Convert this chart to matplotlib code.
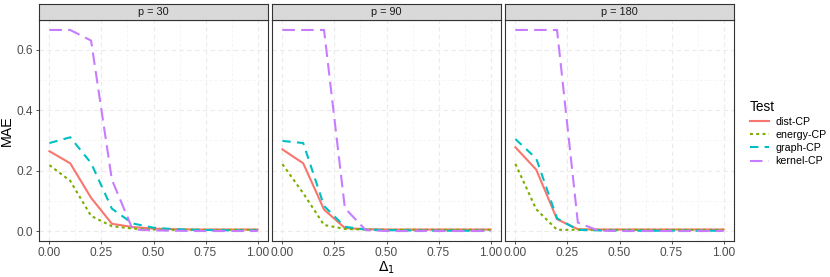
import matplotlib
matplotlib.use("Agg")
import matplotlib.pyplot as plt
from matplotlib.lines import Line2D

plt.rcParams['font.family'] = ['Liberation Sans', 'DejaVu Sans']

# data
delta = [0.0, 0.1, 0.2, 0.3, 0.4, 0.5, 0.6, 0.7, 0.8, 0.9, 1.0]
panels = ["p = 30", "p = 90", "p = 180"]
tests = ["dist-CP", "energy-CP", "graph-CP", "kernel-CP"]

dist_30 = [0.264, 0.224, 0.110, 0.024, 0.013, 0.008, 0.006, 0.005, 0.005, 0.005, 0.005]
energy_30 = [0.218, 0.166, 0.050, 0.016, 0.008, 0.005, 0.004, 0.004, 0.004, 0.004, 0.004]
graph_30 = [0.291, 0.310, 0.225, 0.074, 0.025, 0.011, 0.006, 0.004, 0.003, 0.002, 0.002]
kernel_30 = [0.665, 0.665, 0.630, 0.170, 0.005, 0.002, 0.001, 0.0, 0.0, 0.0, 0.0]

dist_90 = [0.270, 0.224, 0.071, 0.010, 0.006, 0.005, 0.005, 0.005, 0.005, 0.005, 0.005]
energy_90 = [0.221, 0.125, 0.020, 0.007, 0.005, 0.004, 0.004, 0.004, 0.004, 0.004, 0.004]
graph_90 = [0.298, 0.291, 0.083, 0.014, 0.005, 0.003, 0.002, 0.001, 0.001, 0.001, 0.001]
kernel_90 = [0.665, 0.665, 0.665, 0.076, 0.003, 0.0, 0.0, 0.0, 0.0, 0.0, 0.0]

dist_180 = [0.277, 0.203, 0.039, 0.006, 0.005, 0.005, 0.005, 0.005, 0.005, 0.005, 0.005]
energy_180 = [0.222, 0.072, 0.004, 0.004, 0.004, 0.004, 0.004, 0.004, 0.004, 0.004, 0.004]
graph_180 = [0.304, 0.240, 0.042, 0.004, 0.002, 0.001, 0.001, 0.001, 0.001, 0.001, 0.001]
kernel_180 = [0.665, 0.665, 0.665, 0.028, 0.001, 0.0, 0.0, 0.0, 0.0, 0.0, 0.0]

series = [
    [dist_30, energy_30, graph_30, kernel_30],
    [dist_90, energy_90, graph_90, kernel_90],
    [dist_180, energy_180, graph_180, kernel_180],
]

colors = ["#F8766D", "#7CAE00", "#00BFC4", "#C77CFF"]
dashes = [None, (1.4, 1.6), (4, 3), (6, 3)]
lw = 1.5

fig = plt.figure(figsize=(8.3, 2.77), dpi=100)
W, H = 830.0, 277.0
lefts = [39, 272, 505]
pw = 229
top, bottom = 20, 241
strip_h = 16
border = "#333333"

for i in range(3):
    ax = fig.add_axes([lefts[i] / W, 1 - bottom / H, pw / W, (bottom - top) / H])
    for j in range(4):
        kw = {}
        if dashes[j] is not None:
            kw["dashes"] = dashes[j]
        ax.plot(delta, series[i][j], color=colors[j], lw=lw, **kw)
    ax.set_xlim(-0.05, 1.05)
    ax.set_ylim(-0.033, 0.698)
    ax.set_xticks([0, 0.25, 0.5, 0.75, 1.0])
    ax.set_xticklabels(["0.00", "0.25", "0.50", "0.75", "1.00"])
    ax.set_xticks([0.125, 0.375, 0.625, 0.875], minor=True)
    ax.set_yticks([0.0, 0.2, 0.4, 0.6])
    ax.set_yticks([0.1, 0.3, 0.5], minor=True)
    ax.grid(which="major", color="#EBEBEB", lw=0.8, ls=(0, (4, 3)))
    ax.grid(which="minor", color="#F2F2F2", lw=0.5, ls=(0, (4, 3)))
    ax.set_axisbelow(True)
    for s in ax.spines.values():
        s.set_color(border)
        s.set_linewidth(0.8)
    ax.tick_params(which="major", length=2.5, width=0.6, color=border,
                   labelsize=8.6, labelcolor="#4D4D4D", pad=2)
    ax.tick_params(which="minor", length=0)
    if i == 0:
        ax.set_yticklabels(["0.0", "0.2", "0.4", "0.6"])
        ax.set_ylabel("MAE", fontsize=10.3, labelpad=2)
    else:
        ax.tick_params(axis="y", which="major", length=0, labelleft=False)
    if i == 1:
        ax.set_xlabel(r"$\Delta_1$", fontsize=10, labelpad=0.5)

    # facet strip
    sax = fig.add_axes([lefts[i] / W, 1 - top / H, pw / W, strip_h / H])
    sax.set_facecolor("#D9D9D9")
    sax.set_xticks([])
    sax.set_yticks([])
    for s in sax.spines.values():
        s.set_color(border)
        s.set_linewidth(0.8)
    sax.text(0.5, 0.5, panels[i], ha="center", va="center",
             fontsize=7.8, color="#1A1A1A", transform=sax.transAxes)

handles = []
for j in range(4):
    kw = {}
    if dashes[j] is not None:
        kw["dashes"] = dashes[j]
    handles.append(Line2D([], [], color=colors[j], lw=lw, **kw))

leg = fig.legend(handles, tests, title="Test", loc="center left",
                 bbox_to_anchor=(740 / W, 0.52), frameon=False,
                 fontsize=7.7, title_fontsize=9.8, handlelength=1.8,
                 handletextpad=0.6, labelspacing=0.3)
leg._legend_box.align = "left"

fig.savefig("out.png", dpi=100)
